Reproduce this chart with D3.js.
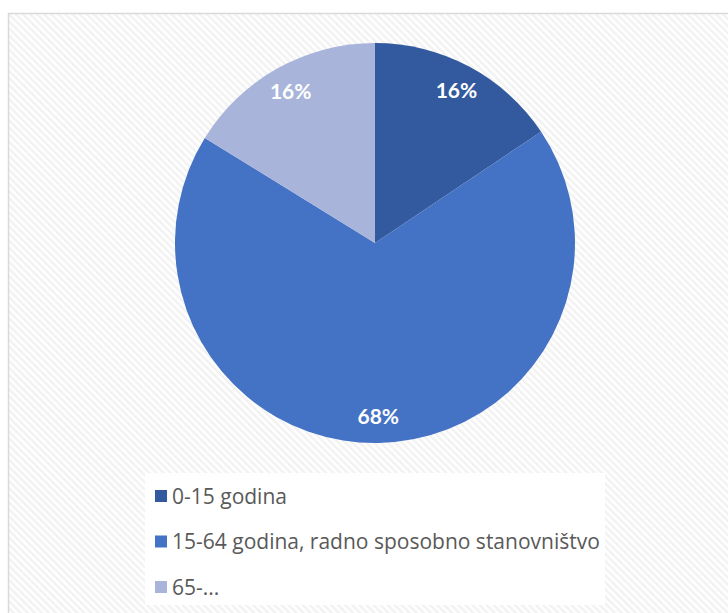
<!DOCTYPE html>
<html><head><meta charset="utf-8">
<script src="https://cdn.jsdelivr.net/npm/d3@7"></script>
<style>html,body{margin:0;padding:0;background:#fff;}svg{display:block;}</style>
</head><body>
<script>
const categories = ["0-15 godina", "15-64 godina, radno sposobno stanovništvo", "65-..."];
const values = [15.6, 68.2, 16.2];
const labels = ["16%", "68%", "16%"];
const colors = ["#335A9E", "#4472C4", "#A8B4DA"];

const W = 728, H = 613;
const svg = d3.select("body").append("svg").attr("width", W).attr("height", H);
const defs = svg.append("defs");
const pat = defs.append("pattern").attr("id", "hatch").attr("patternUnits", "userSpaceOnUse")
  .attr("width", 5).attr("height", 5).attr("patternTransform", "rotate(-45)");
pat.append("rect").attr("width", 5).attr("height", 5).attr("fill", "#ffffff");
pat.append("rect").attr("width", 2.5).attr("height", 5).attr("fill", "#f2f2f2");

svg.append("rect").attr("x", 8.5).attr("y", 13.5).attr("width", W).attr("height", H)
  .attr("fill", "url(#hatch)").attr("stroke", "#d9d9d9").attr("stroke-width", 1.5);

const cx = 375, cy = 243, r = 200;
const pie = d3.pie().sort(null).value(d => d);
const arcs = pie(values);
const arc = d3.arc().innerRadius(0).outerRadius(r);
const g = svg.append("g").attr("transform", `translate(${cx},${cy})`);
g.selectAll("path").data(arcs).join("path").attr("d", arc).attr("fill", (d, i) => colors[i]);

const labelArc = d3.arc().innerRadius(r * 0.865).outerRadius(r * 0.865);
g.selectAll("text").data(arcs).join("text")
  .attr("transform", d => `translate(${labelArc.centroid(d)})`)
  .attr("text-anchor", "middle").attr("dy", "0.36em")
  .attr("fill", "#fff").attr("font-family", "Lato, 'Open Sans', sans-serif")
  .attr("font-weight", "bold").attr("font-size", 21)
  .text((d, i) => labels[i]);

// legend
svg.append("rect").attr("x", 145).attr("y", 473).attr("width", 460).attr("height", 132).attr("fill", "#fff");
const ly = d3.scalePoint().domain(categories).range([496, 587]);
const lg = svg.append("g").selectAll("g").data(categories).join("g")
  .attr("transform", d => `translate(155,${ly(d)})`);
lg.append("rect").attr("x", 0).attr("y", -6).attr("width", 12).attr("height", 12)
  .attr("fill", (d, i) => colors[i]);
lg.append("text").attr("x", 17).attr("y", 7.5)
  .attr("fill", "#595959").attr("font-family", "'Open Sans', sans-serif").attr("font-size", 21)
  .text(d => d);
</script>
</body></html>
